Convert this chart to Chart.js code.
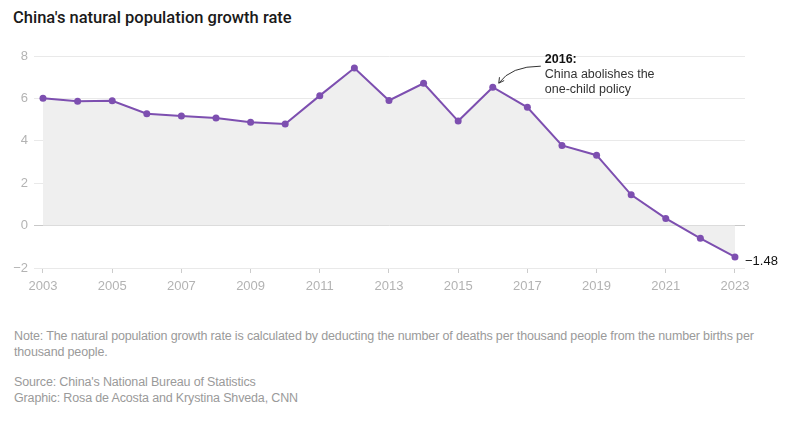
<!DOCTYPE html>
<html>
<head>
<meta charset="utf-8">
<script src="https://cdn.jsdelivr.net/npm/chart.js@4.4.1/dist/chart.umd.min.js"></script>
<style>
  html, body { margin: 0; padding: 0; background: #fff; }
  body { width: 800px; height: 425px; position: relative; overflow: hidden; font-family: "Liberation Sans", Arial, sans-serif; }
  #title { position: absolute; left: 13px; top: 8px; font-family: Roboto, "Liberation Sans", Arial, sans-serif; font-size: 16.5px; font-weight: 500; color: #1a1a1a; line-height: 20px; }
  #wrap { position: absolute; left: 0; top: 0; width: 800px; height: 300px; }
  .note { position: absolute; left: 14px; font-size: 12.5px; color: #9a9a9a; line-height: 16px; letter-spacing: -0.15px; }
</style>
</head>
<body>
<div id="title">China's natural population growth rate</div>
<div id="wrap"><canvas id="c" width="800" height="300"></canvas></div>
<div class="note" style="top:328px; width:780px;">Note: The natural population growth rate is calculated by deducting the number of deaths per thousand people from the number births per<br>thousand people.</div>
<div class="note" style="top:374px;">Source: China's National Bureau of Statistics<br>Graphic: Rosa de Acosta and Krystina Shveda, CNN</div>
<script>
const years = [2003,2004,2005,2006,2007,2008,2009,2010,2011,2012,2013,2014,2015,2016,2017,2018,2019,2020,2021,2022,2023];
const growthRate = [6.01,5.87,5.89,5.28,5.17,5.08,4.87,4.79,6.13,7.43,5.90,6.71,4.93,6.53,5.58,3.78,3.32,1.45,0.34,-0.60,-1.48];
const xTickYears = [2003,2005,2007,2009,2011,2013,2015,2017,2019,2021,2023];
const yTickValues = [-2,0,2,4,6,8];
const annotationYear = 2016;
const annotationTitle = "2016:";
const annotationLines = ["China abolishes the", "one-child policy"];

const purple = '#7d4fb0';

const annotPlugin = {
  id: 'annot',
  afterDatasetsDraw(chart) {
    const ctx = chart.ctx;
    const xs = chart.scales.x, ys = chart.scales.y;
    const i = years.indexOf(annotationYear);
    const px = xs.getPixelForValue(years[i]);
    const py = ys.getPixelForValue(growthRate[i]);
    ctx.save();
    const tx = px + 52, ty = py - 28;
    ctx.textBaseline = 'middle';
    ctx.textAlign = 'left';
    ctx.fillStyle = '#111';
    ctx.font = 'bold 12.5px "Liberation Sans", Arial, sans-serif';
    ctx.fillText(annotationTitle, tx, ty);
    ctx.fillStyle = '#333';
    ctx.font = '12.5px "Liberation Sans", Arial, sans-serif';
    annotationLines.forEach((l, k) => ctx.fillText(l, tx, ty + 15 * (k + 1)));
    // curved arrow
    const sx = px + 48, sy = py - 21;
    const ex = px + 6, ey = py - 4;
    const cx = px + 18, cy = py - 21;
    ctx.strokeStyle = '#333';
    ctx.lineWidth = 1;
    ctx.beginPath();
    ctx.moveTo(sx, sy);
    ctx.quadraticCurveTo(cx, cy, ex, ey);
    ctx.stroke();
    const ang = Math.atan2(ey - cy, ex - cx);
    ctx.beginPath();
    ctx.moveTo(ex - 6 * Math.cos(ang - 0.5), ey - 6 * Math.sin(ang - 0.5));
    ctx.lineTo(ex, ey);
    ctx.lineTo(ex - 6 * Math.cos(ang + 0.5), ey - 6 * Math.sin(ang + 0.5));
    ctx.stroke();
    // last value label
    const li = years.length - 1;
    const lx = xs.getPixelForValue(years[li]);
    const ly = ys.getPixelForValue(growthRate[li]);
    ctx.fillStyle = '#111';
    ctx.font = '13px "Liberation Sans", Arial, sans-serif';
    ctx.fillText('\u2212' + Math.abs(growthRate[li]).toFixed(2), lx + 10, ly + 4);
    ctx.restore();
  }
};

new Chart(document.getElementById('c'), {
  type: 'line',
  data: {
    datasets: [{
      data: years.map((y, i) => ({ x: y, y: growthRate[i] })),
      borderColor: purple,
      backgroundColor: '#efefef',
      fill: 'origin',
      borderWidth: 2,
      pointRadius: 3.5,
      pointBackgroundColor: purple,
      pointBorderColor: purple,
      pointBorderWidth: 0,
      tension: 0,
      clip: false
    }]
  },
  options: {
    responsive: false,
    animation: false,
    events: [],
    layout: { padding: { top: 56, left: 0, right: 55, bottom: 0 } },
    plugins: { legend: { display: false }, tooltip: { enabled: false } },
    scales: {
      x: {
        type: 'linear',
        min: 2002.74,
        max: 2023.29,
        afterBuildTicks: (s) => { s.ticks = xTickYears.map(v => ({ value: v })); },
        afterFit: (s) => { s.height = 32; },
        border: { display: false },
        grid: { drawOnChartArea: false, drawTicks: true, tickLength: 5, color: '#cccccc' },
        ticks: { padding: 6, color: '#b3b3b3', font: { size: 13, family: '"Liberation Sans", Arial, sans-serif' }, callback: v => String(v), maxRotation: 0, autoSkip: false }
      },
      y: {
        min: -2,
        max: 8,
        afterBuildTicks: (s) => { s.ticks = yTickValues.map(v => ({ value: v })); },
        afterFit: (s) => { s.width = 34; },
        border: { display: false },
        grid: { drawTicks: false, color: (c) => c.tick && c.tick.value === 0 ? '#c8c8c8' : '#e9e9e9', lineWidth: 1 },
        ticks: { padding: 6, color: '#b3b3b3', font: { size: 13, family: '"Liberation Sans", Arial, sans-serif' }, callback: v => v < 0 ? '\u2212' + Math.abs(v) : String(v) }
      }
    }
  },
  plugins: [annotPlugin]
});
</script>
</body>
</html>
